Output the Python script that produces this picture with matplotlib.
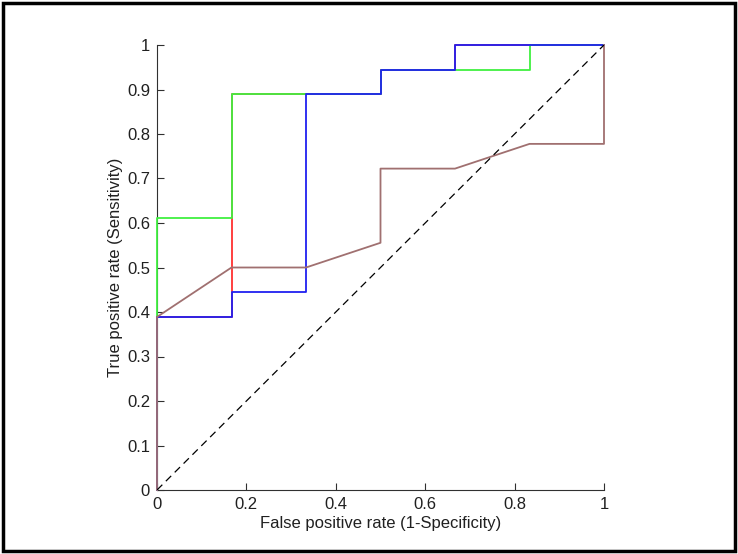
import numpy as np
import matplotlib
matplotlib.use("Agg")
import matplotlib.pyplot as plt
from matplotlib.patches import Rectangle

plt.rcParams['font.family'] = ['Liberation Sans', 'DejaVu Sans']

# ROC curves, x in steps of 1/6, y in steps of 1/18
red_x = [0, 0, 1/6, 1/6, 1/3, 0.5, 0.5, 2/3, 2/3, 1]
red_y = [0, 7/18, 7/18, 16/18, 16/18, 16/18, 17/18, 17/18, 1, 1]

green_x = [0, 0, 1/6, 1/6, 0.5, 0.5, 5/6, 5/6, 1]
green_y = [0, 11/18, 11/18, 16/18, 16/18, 17/18, 17/18, 1, 1]

blue_x = [0, 0, 1/6, 1/6, 1/3, 1/3, 0.5, 0.5, 2/3, 2/3, 1]
blue_y = [0, 7/18, 7/18, 8/18, 8/18, 16/18, 16/18, 17/18, 17/18, 1, 1]

brown_x = [0, 0, 1/6, 1/3, 0.5, 0.5, 2/3, 5/6, 1, 1]
brown_y = [0, 7/18, 9/18, 9/18, 10/18, 13/18, 13/18, 14/18, 14/18, 1]

diag = [0, 1]

fig = plt.figure(figsize=(7.38, 5.54), dpi=100)
fig.patches.append(Rectangle((0.004, 0.005), 0.992, 0.99, transform=fig.transFigure,
                             fill=False, edgecolor='black', linewidth=2.5))

ax = fig.add_axes([157/738, 64/554, 447/738, 445/554])
ax.plot(red_x, red_y, color='#ff3030', lw=1.3, clip_on=False, zorder=3)
ax.plot(green_x, green_y, color='#40f040', lw=1.3, clip_on=False, zorder=3)
ax.plot(blue_x, blue_y, color='#2020f0', lw=1.3, clip_on=False, zorder=3)
ax.plot(brown_x, brown_y, color='#a07070', lw=1.3, clip_on=False, zorder=3)
ax.plot(diag, diag, color='black', lw=0.9, linestyle=(0, (6, 4)), zorder=4)

ax.set_xlim(0, 1)
ax.set_ylim(0, 1)
ax.set_xticks(np.arange(0, 1.01, 0.2))
ax.set_xticklabels(['0', '0.2', '0.4', '0.6', '0.8', '1'])
ax.set_yticks(np.arange(0, 1.01, 0.1))
ax.set_yticklabels(['0', '0.1', '0.2', '0.3', '0.4', '0.5', '0.6', '0.7', '0.8', '0.9', '1'])
ax.tick_params(direction='in', length=5, labelsize=12, color='#303030', labelcolor='#202020', pad=5)
ax.spines['top'].set_visible(False)
ax.spines['right'].set_visible(False)
for s in ['left', 'bottom']:
    ax.spines[s].set_color('#303030')
    ax.spines[s].set_zorder(2)
ax.set_xlabel('False positive rate (1-Specificity)', fontsize=12, color='#202020', labelpad=3)
ax.set_ylabel('True positive rate (Sensitivity)', fontsize=12, color='#202020', labelpad=3)

fig.savefig('out.png', dpi=100)
